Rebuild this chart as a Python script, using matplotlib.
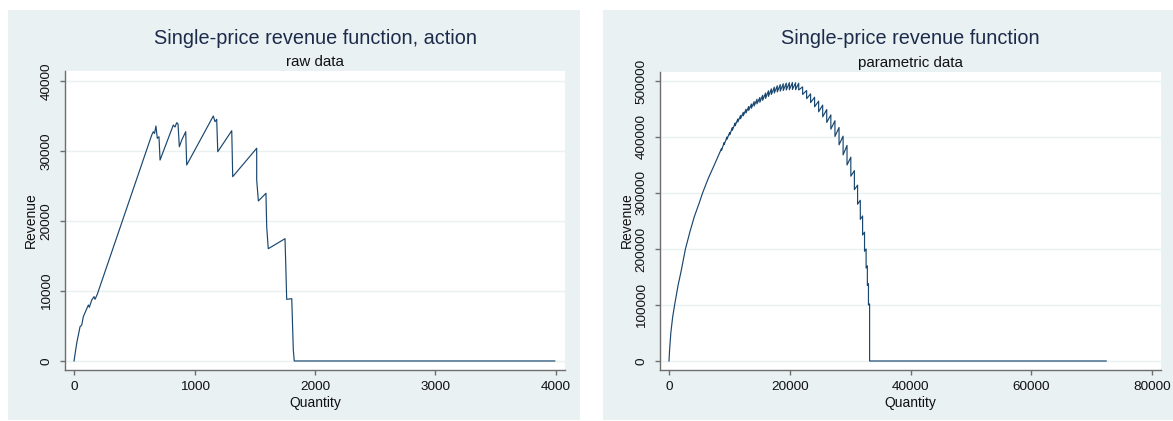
"""
Single-price revenue functions: raw data and parametric data, Stata-like look.
"""

import matplotlib.pyplot as plt
from matplotlib.patches import Rectangle

# raw data panel (vertices of the revenue path)
raw_qty = [0, 22, 50, 64, 77, 119, 127, 147, 166, 174, 193, 645, 658, 668,
           680, 691, 705, 714, 824, 838, 852, 863, 874, 894, 927, 935, 1156,
           1170, 1184, 1193, 1309, 1317, 1516, 1516, 1530, 1593, 1599, 1612,
           1751, 1757, 1765, 1807, 1820, 1828, 3990]
raw_rev = [0, 2530, 4900, 5140, 6330, 8000, 7670, 8710, 9190, 8810, 9530,
           32290, 32760, 32500, 33570, 31810, 32040, 28710, 33710, 33430,
           34040, 33860, 30610, 31570, 32760, 28000, 35000, 34190, 34530,
           29900, 32900, 26330, 30390, 25860, 22860, 23960, 19190, 16040,
           17470, 13960, 8810, 8900, 1570, 0, 0]

# parametric panel: smooth start, then saw teeth (drop at each tooth_qty)
par_smooth_qty = [0, 100, 300, 600, 927, 1500, 2000, 2718, 3500, 4200, 5000,
                  5560, 6500, 7500, 8250]
par_smooth_rev = [0, 20000, 50000, 78000, 100000, 135000, 160000, 200000,
                  232000, 258000, 282000, 300000, 326000, 350000, 368500]
tooth_qty = [8700, 9150, 9600, 10050, 10500, 10950, 11400, 11850, 12300,
             12750, 13200, 13650, 14100, 14570, 15040, 15510, 15990, 16470,
             16950, 17440, 17930, 18420, 18920, 19420, 19930, 20440, 20960,
             21480, 22130, 22790, 23450, 24110, 24780, 25450, 26120, 26800,
             27480, 28160, 28830, 29480, 30110, 30700, 31230, 31680, 32060,
             32380, 32640, 32850, 33030, 33220]
tooth_peak = [379500, 390200, 399900, 408100, 416800, 425000, 432200, 438400,
              444100, 449500, 454500, 458900, 463200, 467400, 470500, 474500,
              478500, 482500, 486000, 489000, 491500, 493500, 495000, 496200,
              497000, 497200, 496800, 496000, 489500, 483000, 477000, 471000,
              464000, 457000, 449000, 439500, 429000, 417000, 401500, 385000,
              364000, 340000, 314000, 287000, 259000, 230000, 200000, 170000,
              138000, 102000]
tooth_trough = [376500, 386800, 396100, 403900, 412200, 420000, 426800,
                432600, 437900, 442900, 447500, 451500, 455400, 459200,
                462000, 465500, 469000, 472500, 476000, 478500, 480500,
                482000, 483000, 484000, 484500, 484800, 484500, 484000,
                476000, 468500, 461500, 454000, 445000, 436000, 426000,
                414000, 401000, 386000, 368000, 350000, 330000, 306000,
                280000, 253000, 225000, 196000, 166000, 135000, 100000, 0]
par_end_qty = 72400

raw_xticks = [0, 1000, 2000, 3000, 4000]
raw_yticks = [0, 10000, 20000, 30000, 40000]
par_xticks = [0, 20000, 40000, 60000, 80000]
par_yticks = [0, 100000, 200000, 300000, 400000, 500000]

BG = "#E9F1F3"
LINE = "#1A476F"
AXIS = "#6E6E6E"
TITLE = "#1C2B4A"
FONT = "Liberation Sans"
W, H = 1173, 421

plt.rcParams["font.family"] = [FONT, "DejaVu Sans"]


def fx(px):
    return px / W


def fy(px):
    return 1 - px / H


def build_parametric():
    qty = list(par_smooth_qty)
    rev = list(par_smooth_rev)
    for q, p, t in zip(tooth_qty, tooth_peak, tooth_trough):
        qty += [q, q]
        rev += [p, t]
    qty.append(par_end_qty)
    rev.append(0)
    return qty, rev


def style_axes(ax, xticks, yticks, xlim, ylim):
    ax.set_xlim(xlim)
    ax.set_ylim(ylim)
    ax.set_xticks(xticks)
    ax.set_yticks(yticks)
    ax.set_xticklabels([str(v) for v in xticks])
    ax.set_yticklabels([str(v) for v in yticks], rotation=90, va="center")
    for side in ["top", "right"]:
        ax.spines[side].set_visible(False)
    for side in ["left", "bottom"]:
        ax.spines[side].set_color(AXIS)
        ax.spines[side].set_linewidth(1.0)
    ax.tick_params(length=3.6, width=1.0, color=AXIS, labelsize=9.7,
                   labelcolor="#111111")
    ax.tick_params(axis="x", pad=4.6)
    ax.tick_params(axis="y", pad=5.2)
    ax.set_axisbelow(True)
    ax.grid(axis="y", color="#EAF1F3", linewidth=1.0)
    ax.grid(axis="x", visible=False)


fig = plt.figure(figsize=(W / 100, H / 100), dpi=100, facecolor="white")

# light panels behind each graph
for left, right in [(8, 580), (603, 1173)]:
    fig.patches.append(Rectangle((fx(left), fy(420)), fx(right - left),
                                 (420 - 10) / H, transform=fig.transFigure,
                                 facecolor=BG, edgecolor="none", zorder=-10))

ax1 = fig.add_axes([fx(65), fy(370), fx(500), 299 / H])
ax1.plot(raw_qty, raw_rev, color=LINE, linewidth=0.85)
style_axes(ax1, raw_xticks, raw_yticks, (-75, 4075), (-1290, 41430))

par_qty, par_rev = build_parametric()
ax2 = fig.add_axes([fx(660), fy(370), fx(501), 298 / H])
ax2.plot(par_qty, par_rev, color=LINE, linewidth=0.85)
style_axes(ax2, par_xticks, par_yticks, (-1490, 81475), (-16070, 516070))

# titles and axis labels
panels = [
    (315, 31, "Single-price revenue function, action", "raw data"),
    (910.5, 626.5, "Single-price revenue function", "parametric data"),
]
for cx, ylab_x, title, subtitle in panels:
    fig.text(fx(cx), fy(44), title, ha="center", va="baseline",
             fontsize=14.3, color=TITLE)
    fig.text(fx(cx), fy(66.5), subtitle, ha="center", va="baseline",
             fontsize=10.9, color="#111111")
    fig.text(fx(cx), fy(406.5), "Quantity", ha="center", va="baseline",
             fontsize=10, color="#111111")
    fig.text(fx(ylab_x), fy(220.5), "Revenue", ha="center", va="center",
             rotation=90, fontsize=10, color="#111111")

fig.savefig("out.png", dpi=100, facecolor="white")
plt.close(fig)
